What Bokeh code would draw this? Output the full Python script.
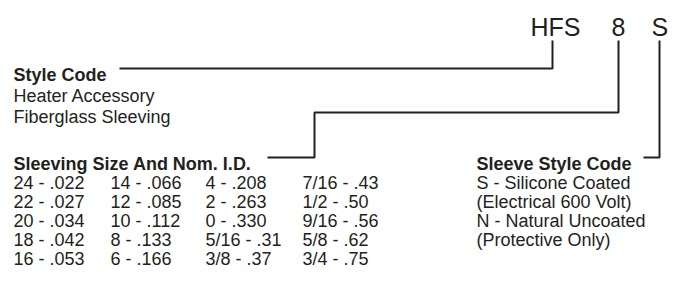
from bokeh.plotting import figure
from bokeh.models import Range1d, ColumnDataSource
from bokeh.core.properties import value
from bokeh.embed import file_html
from bokeh.resources import INLINE

INK = "#231f20"
FONT = "Liberation Sans"

# Part-number code
code_parts = ["HFS", "8", "S"]
code_x = [530, 611, 651]
code_y = 26

# Style code block
style_title = "Style Code"
style_lines = ["Heater Accessory", "Fiberglass Sleeving"]
style_y = [74, 95, 116]

# Sleeving size table (columns)
size_title = "Sleeving Size And Nom. I.D."
size_col1 = ["24 - .022", "22 - .027", "20 - .034", "18 - .042", "16 - .053"]
size_col2 = ["14 - .066", "12 - .085", "10 - .112", "8 - .133", "6 - .166"]
size_col3 = ["4 - .208", "2 - .263", "0 - .330", "5/16 - .31", "3/8 - .37"]
size_col4 = ["7/16 - .43", "1/2 - .50", "9/16 - .56", "5/8 - .62", "3/4 - .75"]
col_x = [13, 110, 205, 302]
head_y = 163
row_y = [182.5, 201.5, 220.5, 239.5, 258.5]

# Sleeve style block
sleeve_title = "Sleeve Style Code"
sleeve_lines = ["S - Silicone Coated", "(Electrical 600 Volt)", "N - Natural Uncoated", "(Protective Only)"]
sleeve_x = 476

# Leader lines (picture coordinates)
leader_xs = [[119, 552, 552], [267, 314, 314, 618, 618], [643, 659, 659]]
leader_ys = [[68, 68, 40], [157, 157, 112, 112, 40], [157, 157, 40]]

W, H = 670, 269
p = figure(width=W, height=H, x_range=Range1d(0, W), y_range=Range1d(H, 0),
           output_backend="svg", toolbar_location=None, min_border=0)
p.axis.visible = False
p.grid.visible = False
p.outline_line_color = None
p.background_fill_color = "white"

p.multi_line(xs=leader_xs, ys=leader_ys, line_color=INK, line_width=2)

def txt(xs, ys, texts, size, style="normal"):
    src = ColumnDataSource(dict(x=xs, y=ys, t=texts))
    p.text(x="x", y="y", text="t", source=src, text_font=value(FONT),
           text_font_size=size, text_font_style=style, text_color=INK,
           text_baseline="alphabetic", text_align="left")

txt(code_x, [code_y] * 3, code_parts, "25px")

txt([13], [style_y[0]], [style_title], "18px", "bold")
txt([13] * 2, style_y[1:], style_lines, "18px")

txt([13], [head_y], [size_title], "18px", "bold")
for cx, col in zip(col_x, [size_col1, size_col2, size_col3, size_col4]):
    txt([cx] * len(col), row_y, col, "18px")

txt([sleeve_x], [head_y], [sleeve_title], "18px", "bold")
txt([sleeve_x] * 4, row_y[:4], sleeve_lines, "18px")

open("out.html", "w").write(file_html(p, INLINE))
